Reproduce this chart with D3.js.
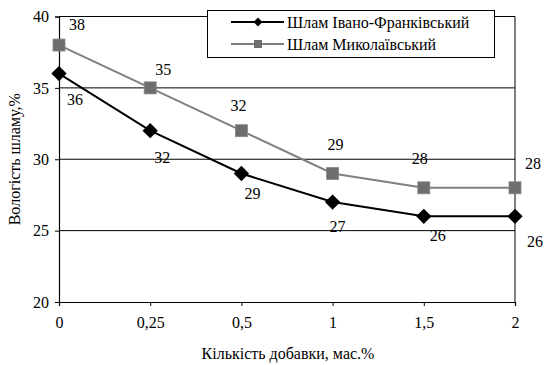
<!DOCTYPE html>
<html>
<head>
<meta charset="utf-8">
<script src="https://cdn.jsdelivr.net/npm/d3@7/dist/d3.min.js"></script>
<style>
  html, body { margin: 0; padding: 0; background: #fff; }
  #chart text { font-family: 'Liberation Serif', 'DejaVu Serif', serif !important; fill: #000; }
</style>
</head>
<body>
<svg id="chart" width="544" height="365"></svg>
<script>
// Additive amount, mass %
const categories = ["0", "0,25", "0,5", "1", "1,5", "2"];
// Sludge moisture, %
const ivanoFrankivsk = [36, 32, 29, 27, 26, 26];
const mykolaiv = [38, 35, 32, 29, 28, 28];
const yTicks = [20, 25, 30, 35, 40];
const seriesNames = ["Шлам Івано-Франківський", "Шлам Миколаївський"];

// label nudges (dx, dy) for the value labels of each series
const ivanoLabelNudge = [[16, 26], [12, 27], [11, 20], [5, 24], [14, 19], [20, 25]];
const mykolaivLabelNudge = [[18, -21], [13, -18], [-3, -25], [3, -29], [-4, -29], [18, -24]];

const FONT = "'Liberation Serif', 'DejaVu Serif', serif";
const FS = 16;
const svg = d3.select("#chart");
const plotLeft = 59, plotRight = 515, plotTop = 16.5, plotBottom = 302;

const x = d3.scalePoint().domain(categories).range([plotLeft, plotRight]);
const y = d3.scaleLinear().domain([20, 40]).range([plotBottom, plotTop]);

// horizontal gridlines
svg.append("g")
  .selectAll("line")
  .data(yTicks.filter(v => v > 20))
  .join("line")
  .attr("x1", plotLeft).attr("x2", plotRight)
  .attr("y1", d => y(d)).attr("y2", d => y(d))
  .attr("stroke", "#000").attr("stroke-width", 1);

// right border
svg.append("line")
  .attr("x1", plotRight).attr("x2", plotRight)
  .attr("y1", y(40)).attr("y2", y(20))
  .attr("stroke", "#000").attr("stroke-width", 1);

// y axis
const yAxis = svg.append("g")
  .attr("transform", `translate(${plotLeft},0)`)
  .call(d3.axisLeft(y).tickValues(yTicks).tickSize(4).tickPadding(6).tickFormat(d3.format("d")))
  .attr("font-family", FONT).attr("font-size", FS);
yAxis.select(".domain").attr("stroke", "#000").attr("stroke-width", 1.2);
yAxis.selectAll(".tick line").attr("stroke", "#000");

// x axis
const xAxis = svg.append("g")
  .attr("transform", `translate(0,${plotBottom})`)
  .call(d3.axisBottom(x).tickSize(4).tickPadding(11))
  .attr("font-family", FONT).attr("font-size", FS);
xAxis.select(".domain").attr("stroke", "#000").attr("stroke-width", 1.2);
xAxis.selectAll(".tick line").attr("stroke", "#000");

// axis titles
svg.append("text")
  .attr("x", 288).attr("y", 359)
  .attr("text-anchor", "middle")
  .attr("font-family", FONT).attr("font-size", FS)
  .text("Кількість добавки, мас.%");

svg.append("text")
  .attr("transform", `translate(20,${(plotTop + plotBottom) / 2}) rotate(-90)`)
  .attr("text-anchor", "middle")
  .attr("font-family", FONT).attr("font-size", FS)
  .text("Вологість шламу,%");

const line = d3.line().x((d, i) => x(categories[i])).y(d => y(d));
const diamond = d3.symbol().type(d3.symbolDiamond2).size(150);

// Mykolaiv series (grey, squares)
svg.append("path")
  .datum(mykolaiv)
  .attr("d", line)
  .attr("fill", "none").attr("stroke", "#808080").attr("stroke-width", 2);
svg.append("g")
  .selectAll("rect")
  .data(mykolaiv)
  .join("rect")
  .attr("x", (d, i) => x(categories[i]) - 6)
  .attr("y", d => y(d) - 6)
  .attr("width", 12).attr("height", 12)
  .attr("fill", "#6e6e6e").attr("stroke", "#888").attr("stroke-width", 0.8);

// Ivano-Frankivsk series (black, diamonds)
svg.append("path")
  .datum(ivanoFrankivsk)
  .attr("d", line)
  .attr("fill", "none").attr("stroke", "#000").attr("stroke-width", 2);
svg.append("g")
  .selectAll("path")
  .data(ivanoFrankivsk)
  .join("path")
  .attr("d", diamond)
  .attr("transform", (d, i) => `translate(${x(categories[i])},${y(d)})`)
  .attr("fill", "#000");

// value labels
function valueLabels(values, nudge) {
  svg.append("g")
    .selectAll("text")
    .data(values)
    .join("text")
    .attr("x", (d, i) => x(categories[i]) + nudge[i][0])
    .attr("y", (d, i) => y(d) + nudge[i][1])
    .attr("dy", "0.35em")
    .attr("text-anchor", "middle")
    .attr("font-family", FONT).attr("font-size", FS)
    .text(d => d);
}
valueLabels(mykolaiv, mykolaivLabelNudge);
valueLabels(ivanoFrankivsk, ivanoLabelNudge);

// legend
const legend = svg.append("g");
legend.append("rect")
  .attr("x", 207.5).attr("y", 10.5).attr("width", 287).attr("height", 47)
  .attr("fill", "#fff").attr("stroke", "#000").attr("stroke-width", 1);
const rows = [
  { name: seriesNames[0], color: "#000", marker: "diamond", yy: 22 },
  { name: seriesNames[1], color: "#808080", marker: "square", yy: 44 }
];
rows.forEach(r => {
  legend.append("line")
    .attr("x1", 231).attr("x2", 284).attr("y1", r.yy).attr("y2", r.yy)
    .attr("stroke", r.color).attr("stroke-width", 2);
  if (r.marker === "diamond") {
    legend.append("path")
      .attr("d", d3.symbol().type(d3.symbolDiamond2).size(50))
      .attr("transform", `translate(258,${r.yy})`)
      .attr("fill", "#000");
  } else {
    legend.append("rect")
      .attr("x", 254).attr("y", r.yy - 4).attr("width", 8).attr("height", 8)
      .attr("fill", "#6e6e6e");
  }
  legend.append("text")
    .attr("x", 287).attr("y", r.yy).attr("dy", "0.35em")
    .attr("font-family", FONT).attr("font-size", FS)
    .text(r.name);
});
</script>
</body>
</html>
